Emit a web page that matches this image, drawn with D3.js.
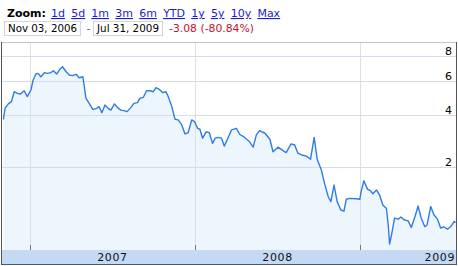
<!DOCTYPE html>
<html><head><meta charset="utf-8">
<script src="https://cdn.jsdelivr.net/npm/d3@7"></script>
<style>body{margin:0;background:#fff;} svg{display:block;font-family:"DejaVu Sans",Verdana,sans-serif;}</style>
</head><body><svg id="c" width="458" height="266"></svg>
<script>
// ---- data ----
const dates = ["2006-11-03","2006-11-07","2006-11-14","2006-11-21","2006-11-27","2006-12-04","2006-12-11","2006-12-19","2006-12-26",
"2007-01-03","2007-01-08","2007-01-14","2007-01-19","2007-01-25","2007-02-02","2007-02-09","2007-02-16","2007-02-22","2007-03-01",
"2007-03-08","2007-03-14","2007-03-22","2007-03-29","2007-04-05","2007-04-13","2007-04-20","2007-04-28","2007-05-05","2007-05-12",
"2007-05-20","2007-05-29","2007-06-03","2007-06-09","2007-06-16","2007-06-23","2007-06-29","2007-07-07","2007-07-14","2007-07-21",
"2007-07-28","2007-08-04","2007-08-12","2007-08-19","2007-08-27","2007-09-01","2007-09-09","2007-09-16","2007-09-24","2007-10-01",
"2007-10-07","2007-10-14","2007-10-22","2007-10-29","2007-11-03","2007-11-11","2007-11-18","2007-11-25","2007-12-03","2007-12-10",
"2007-12-17","2007-12-25","2007-12-31","2008-01-07","2008-01-12","2008-01-18","2008-01-26","2008-02-02","2008-02-09","2008-02-15",
"2008-02-22","2008-02-29","2008-03-06","2008-03-14","2008-03-22","2008-04-02","2008-04-09","2008-04-20","2008-05-01","2008-05-09",
"2008-05-16","2008-05-23","2008-06-04","2008-06-15","2008-06-22","2008-07-03","2008-07-14","2008-07-21","2008-08-01","2008-08-09",
"2008-08-16","2008-08-24","2008-09-04","2008-09-13","2008-09-21","2008-09-28","2008-10-07","2008-10-14","2008-10-22","2008-10-28",
"2008-11-04","2008-11-11","2008-11-19","2008-11-26","2008-12-01","2008-12-09","2008-12-23","2008-12-31","2009-01-03","2009-01-09",
"2009-01-17","2009-01-24","2009-01-29","2009-02-06","2009-02-13","2009-02-20","2009-02-28","2009-03-04","2009-03-07","2009-03-12",
"2009-03-18","2009-03-26","2009-04-01","2009-04-08","2009-04-17","2009-04-24","2009-05-02","2009-05-09","2009-05-16","2009-05-24",
"2009-05-29","2009-06-06","2009-06-13","2009-06-21","2009-06-28","2009-07-05","2009-07-13","2009-07-20","2009-07-28","2009-07-31"];
const prices = [3.81,4.38,4.60,4.73,5.32,5.22,5.18,5.38,5.02,
5.43,6.10,6.53,6.58,6.33,6.63,6.58,6.63,6.78,6.53,
6.89,7.09,6.70,6.46,6.41,6.51,6.26,6.33,4.92,4.63,
4.31,4.36,4.45,4.13,4.54,4.36,4.27,4.60,4.40,4.27,
4.24,4.19,4.40,4.63,4.67,4.92,4.98,5.38,5.38,5.32,
5.58,5.47,5.26,5.32,5.02,4.45,3.81,3.78,3.55,3.16,
3.21,3.78,3.70,3.40,3.36,2.99,3.25,3.21,2.79,2.99,
3.02,2.99,2.69,2.99,3.33,3.40,3.15,3.02,2.85,2.65,
3.12,3.30,3.19,2.95,2.49,2.65,2.53,2.46,2.77,2.73,
2.44,2.38,2.34,2.24,3.02,2.22,1.91,1.55,1.24,1.13,
1.51,1.13,0.96,0.94,1.18,1.20,1.19,1.18,1.35,1.62,
1.41,1.37,1.30,1.39,1.27,1.06,0.99,0.69,0.40,0.56,
0.81,0.79,0.83,0.78,0.76,0.65,0.83,1.04,0.81,0.66,
0.69,1.03,0.87,0.79,0.64,0.66,0.62,0.66,0.75,0.73];
const yTicks = [2, 4, 6, 8];
const yearTicks = ["2007-01-01", "2008-01-01", "2009-01-01"];
const yearLabels = ["2007", "2008", "2009"];
const zoomLinks = ["1d","5d","1m","3m","6m","YTD","1y","5y","10y","Max"];
const rangeStart = "Nov 03, 2006", rangeEnd = "Jul 31, 2009", change = "-3.08 (-80.84%)";
const domainStart = "2006-10-31", domainEnd = "2009-08-01";

// ---- drawing ----
const parse = d3.timeParse("%Y-%m-%d");
const data = dates.map((d, i) => ({date: parse(d), value: prices[i]}));
const svg = d3.select("#c");
const L = 2, R = 456, T = 42, B = 250;

const x = d3.scaleTime().domain([parse(domainStart), parse(domainEnd)]).range([L, R]);
const y = d3.scaleSymlog().constant(1).domain([2, 8]).range([167, 56]);

// header
const hdr = svg.append("g").attr("font-size", 11);
hdr.append("text").attr("x", 7).attr("y", 17).attr("font-weight", "bold").attr("fill", "#000").text("Zoom:");
let lx = 51;
zoomLinks.forEach(t => {
  const el = hdr.append("text").attr("x", lx).attr("y", 17).attr("fill", "#1c1ccc")
    .attr("text-decoration", "underline").text(t);
  lx += el.node().getComputedTextLength() + 6.2;
});
hdr.append("rect").attr("x", 4.5).attr("y", 21.5).attr("width", 76).attr("height", 14)
  .attr("fill", "#fff").attr("stroke", "#d4d4d4");
hdr.append("text").attr("x", 8).attr("y", 32).attr("fill", "#000")
  .attr("textLength", 69).attr("lengthAdjust", "spacingAndGlyphs").text(rangeStart);
hdr.append("text").attr("x", 86.5).attr("y", 32).attr("fill", "#666").text("-");
hdr.append("rect").attr("x", 93.5).attr("y", 21.5).attr("width", 69).attr("height", 14)
  .attr("fill", "#fff").attr("stroke", "#d4d4d4");
hdr.append("text").attr("x", 97).attr("y", 32).attr("fill", "#000")
  .attr("textLength", 62).attr("lengthAdjust", "spacingAndGlyphs").text(rangeEnd);
hdr.append("text").attr("x", 169).attr("y", 32).attr("fill", "#c8102e")
  .attr("textLength", 85).attr("lengthAdjust", "spacingAndGlyphs").text(change);

// clip
svg.append("clipPath").attr("id", "clip").append("rect")
  .attr("x", L).attr("y", T).attr("width", R - L).attr("height", B - T);

// area
const area = d3.area().x(d => x(d.date)).y0(B).y1(d => y(d.value));
svg.append("path").datum(data).attr("clip-path", "url(#clip)")
  .attr("fill", "#edf5fd").attr("d", area);

// grid
svg.append("g").selectAll("line").data(yearTicks).join("line")
  .attr("x1", d => Math.round(x(parse(d))) + 0.5).attr("x2", d => Math.round(x(parse(d))) + 0.5)
  .attr("y1", T).attr("y2", B).attr("stroke", "#dcdfe3").attr("stroke-width", 1);
svg.append("g").selectAll("line").data(yTicks).join("line")
  .attr("x1", L).attr("x2", R)
  .attr("y1", d => Math.round(y(d)) + 0.5).attr("y2", d => Math.round(y(d)) + 0.5)
  .attr("stroke", "#d8d8ee").attr("stroke-width", 1);

// line
const line = d3.line().x(d => x(d.date)).y(d => y(d.value));
svg.append("path").datum(data).attr("clip-path", "url(#clip)")
  .attr("fill", "none").attr("stroke", "#2f7de1").attr("stroke-width", 1.4)
  .attr("stroke-linejoin", "round").attr("d", line);

// y labels
svg.append("g").selectAll("text").data(yTicks).join("text")
  .attr("x", 452).attr("y", d => Math.round(y(d)) - 1).attr("text-anchor", "end")
  .attr("font-size", 11).attr("fill", "#000").text(d => d);

// x axis band
svg.append("rect").attr("x", L).attr("y", B).attr("width", R - L).attr("height", 14).attr("fill", "#c4daf4");
svg.append("g").selectAll("line").data(yearTicks).join("line")
  .attr("x1", d => Math.round(x(parse(d))) + 0.5).attr("x2", d => Math.round(x(parse(d))) + 0.5)
  .attr("y1", B - 5).attr("y2", B).attr("stroke", "#777");
const yearEnds = yearTicks.map((d, i) => i < yearTicks.length - 1 ? yearTicks[i + 1] : null);
svg.append("g").selectAll("text").data(yearLabels).join("text")
  .attr("font-size", 11).attr("fill", "#111").attr("y", 261)
  .attr("text-anchor", (d, i) => i === yearLabels.length - 1 ? "end" : "middle")
  .attr("x", (d, i) => i === yearLabels.length - 1 ? R - 1 : (x(parse(yearTicks[i])) + x(parse(yearEnds[i]))) / 2)
  .attr("letter-spacing", 0.6)
  .text(d => d);

// frame
svg.append("line").attr("x1", 1).attr("x2", 457).attr("y1", 42.5).attr("y2", 42.5).attr("stroke", "#c4c4c4");
svg.append("line").attr("x1", 1.5).attr("x2", 1.5).attr("y1", 42).attr("y2", 265).attr("stroke", "#555");
svg.append("line").attr("x1", 456.5).attr("x2", 456.5).attr("y1", 42).attr("y2", 265).attr("stroke", "#555");
svg.append("line").attr("x1", 1).attr("x2", 457).attr("y1", 264.5).attr("y2", 264.5).attr("stroke", "#555");
</script></body></html>
